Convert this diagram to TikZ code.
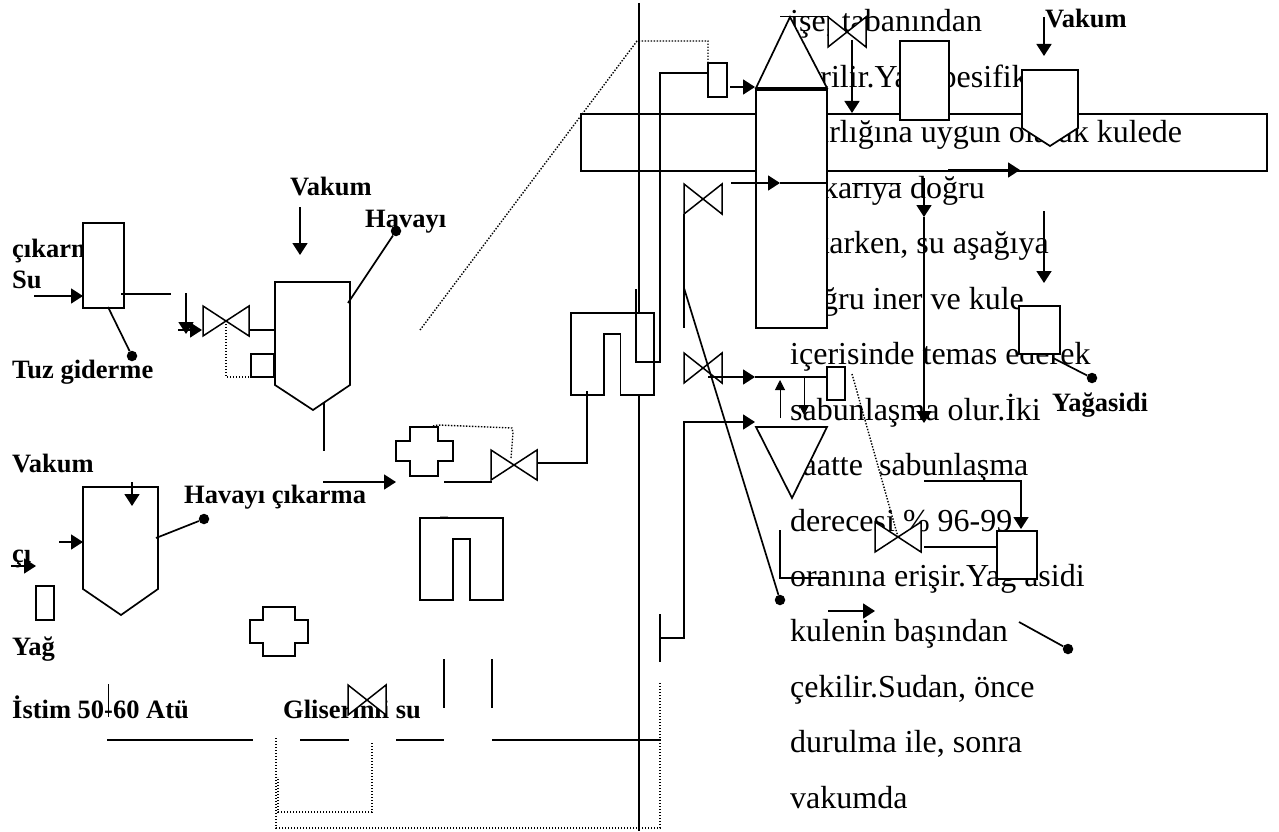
\documentclass[tikz,border=0pt]{standalone}
\usepackage{fontspec}
\setmainfont{Liberation Serif}
\usetikzlibrary{arrows.meta}

\begin{document}
\begin{tikzpicture}[
      x=1pt, y=-1pt,
      pipe/.style={line width=1.7pt},
      thin pipe/.style={line width=1pt},
      main/.style={line width=2.3pt},
      arr/.style={pipe, -{Triangle[length=12pt, width=15pt]}},
      thin arr/.style={thin pipe, -{Triangle[length=10pt, width=10pt]}},
      dots/.style={line width=1.4pt, dash pattern=on 1.4pt off 1.6pt},
      box/.style={draw, fill=white, pipe, inner sep=0, outer sep=0},
      shape fill/.style={pipe, draw, fill=white, line join=miter},
      dot/.style={circle, fill, inner sep=0, minimum size=10.5pt},
      valve/.style={inner sep=0, outer sep=0, minimum width=49pt, minimum height=33pt,
        path picture={\draw[line width=1.5pt, fill=white]
          ([shift={(1.5pt,-1.5pt)}]path picture bounding box.north west) --
          ([shift={(-1.5pt,1.5pt)}]path picture bounding box.south east) --
          ([shift={(-1.5pt,-1.5pt)}]path picture bounding box.north east) --
          ([shift={(1.5pt,1.5pt)}]path picture bounding box.south west) -- cycle;}},
      small valve/.style={valve, minimum width=41pt},
      body/.style={anchor=base west, inner sep=0, font=\fontsize{32}{36}\selectfont},
      lab/.style={anchor=base west, inner sep=0, font=\bfseries\fontsize{26.5}{30}\selectfont}
    ]
      \useasboundingbox (0,0) rectangle (1279,832);

      % running text behind the plant
      \foreach \txt [count=\i from 0] in {{işe, tabanından}, {verilir.Yağ\ \ pesifik}, {ağırlığına uygun olarak kulede},
          {yukarıya doğru}, {çıkarken, su aşağıya}, {doğru iner ve kule}, {içerisinde temas ederek},
          {sabunlaşma olur.İki}, {saatte\ \ sabunlaşma}, {derecesi \% 96-99}, {oranına erişir.Yağ asidi},
          {kulenin başından}, {çekilir.Sudan, önce}, {durulma ile, sonra}, {vakumda}}
        \node[body] (line\i) at (790,32+55.45*\i) {\txt};

      \node[lab] (cikarma) at (12,257) {çıkarma};
      \node[lab] (su) at (12,288) {Su};
      \node[lab] (tuz) at (12,378) {Tuz giderme};
      \node[lab] (vakuma) at (290,195) {Vakum};
      \node[lab] (havayia) at (365,227) {Havayı};
      \node[lab] (vakumb) at (12,472) {Vakum};
      \node[lab] (havayib) at (184,503) {Havayı çıkarma};
      \node[lab] (ci) at (12,562) {çı};
      \node[lab] (yag) at (12,655) {Yağ};
      \node[lab] (istim) at (12,718) {İstim 50-60 Atü};
      \node[lab] (gliserin) at (283,718) {Gliserinli su};
      \node[lab] (vakumc) at (1045,28) {Vakum};
      \node[lab] (yagasidi) at (1052,411) {Yağasidi};

      % column, frame and the long pipes
      \coordinate (maintop) at (639,3); \coordinate (mainend) at (639,831);
      \draw[main] (maintop) -- (mainend);
      \coordinate (bara) at (107,740); \coordinate (barb) at (253,740);
      \coordinate (barc) at (300,740); \coordinate (bard) at (349,740);
      \coordinate (bare) at (396,740); \coordinate (barf) at (444,740);
      \coordinate (barg) at (492,740); \coordinate (barh) at (661,740);
      \draw[pipe] (bara) -- (barb);
      \draw[pipe] (barc) -- (bard);
      \draw[pipe] (bare) -- (barf);
      \draw[pipe] (barg) -- (barh);

      \coordinate (fa) at (581,114); \coordinate (fb) at (1267,171);
      \draw[pipe] (fa) rectangle (fb);

      % left washer
      \node[box, minimum width=41pt, minimum height=85pt] (washer) at (103.5,265.5) {};
      \coordinate (wa) at (34,296); \coordinate (wb) at (83,296);
      \draw[arr] (wa) -- (wb);
      \coordinate (wc) at (121,294); \coordinate (wd) at (171,294);
      \draw[pipe] (wc) -- (wd);
      \coordinate (we) at (108,307);
      \node[dot] (tuzdot) at (132,356) {};
      \draw[pipe] (we) -- (tuzdot);

      % first vacuum tank
      \draw[shape fill] (275,282) -- (350,282) -- (350,385) -- (313,410) -- (275,385) -- cycle;
      \node[valve] (vta) at (226,321) {};
      \node[box, minimum width=23pt, minimum height=23pt] (sensa) at (262.5,365.5) {};
      \coordinate (ta) at (186,293); \coordinate (tb) at (186,334);
      \draw[arr] (ta) -- (tb);
      \coordinate (tc) at (178,330); \coordinate (td) at (202,330);
      \draw[arr] (tc) -- (td);
      \coordinate (te) at (250,330); \coordinate (tf) at (275,330);
      \draw[pipe] (te) -- (tf);
      \coordinate (tg) at (249,377);
      \draw[dots] (vta.center) |- (tg);
      \coordinate (th) at (324,403); \coordinate (ti) at (324,451);
      \draw[pipe] (th) -- (ti);
      \coordinate (tj) at (348,303);
      \node[dot] (havadot) at (396,231) {};
      \draw[pipe] (tj) -- (havadot);
      \coordinate (tk) at (300,207); \coordinate (tl) at (300,255);
      \draw[arr] (tk) -- (tl);

      % second vacuum tank
      \draw[shape fill] (83,487) -- (158,487) -- (158,589) -- (121,615) -- (83,589) -- cycle;
      \coordinate (ka) at (132,482); \coordinate (kb) at (132,506);
      \draw[arr] (ka) -- (kb);
      \coordinate (kc) at (59,542); \coordinate (kd) at (83,542);
      \draw[arr] (kc) -- (kd);
      \coordinate (ke) at (156,538);
      \node[dot] (havbdot) at (204,519) {};
      \draw[pipe] (ke) -- (havbdot);
      \coordinate (kf) at (11,566); \coordinate (kg) at (36,566);
      \draw[arr] (kf) -- (kg);
      \node[box, minimum width=18pt, minimum height=34pt] (yagbox) at (45,603) {};
      \coordinate (kh) at (108,684); \coordinate (ki) at (108,717);
      \draw[thin pipe] (kh) -- (ki);

      % coolers and lower valves
      \draw[shape fill] (410,427) -- (438,427) -- (438,441) -- (453,441) -- (453,461) -- (438,461) -- (438,476)
        -- (410,476) -- (410,461) -- (396,461) -- (396,441) -- (410,441) -- cycle;
      \draw[shape fill] (263,607) -- (295,607) -- (295,620) -- (308,620) -- (308,643) -- (295,643) -- (295,656)
        -- (263,656) -- (263,643) -- (250,643) -- (250,620) -- (263,620) -- cycle;
      \node[valve] (vtb) at (514,465) {};
      \node[small valve] (vtc) at (367,700) {};
      \coordinate (ca) at (323,482); \coordinate (cb) at (396,482);
      \draw[arr] (ca) -- (cb);
      \coordinate (cc) at (444,482); \coordinate (cd) at (492,482);
      \draw[pipe] (cc) -- (cd);
      \coordinate (ce) at (433,426); \coordinate (cf) at (512,428); \coordinate (cg) at (511,458);
      \draw[dots] (ce) -- (438,425) -- (cf) -- (513,433) -- (cg);

      % U exchangers
      \fill (440,516.5) -- (448,516.5) -- (444,522) -- cycle;
      \draw[shape fill] (420,518) -- (503,518) -- (503,600) -- (470,600) -- (470,539) -- (453,539) -- (453,600) -- (420,600) -- cycle;
      \draw[shape fill] (571,313) -- (654,313) -- (654,395) -- (620.5,395) -- (620.5,334) -- (604,334) -- (604,395) -- (571,395) -- cycle;
      \coordinate (ua) at (538,463); \coordinate (ub) at (587,391);
      \draw[pipe] (ua) -| (ub);
      \coordinate (uc) at (444,659); \coordinate (ud) at (444,708);
      \coordinate (ue) at (492,659); \coordinate (uf) at (492,708);
      \draw[pipe] (uc) -- (ud);
      \draw[pipe] (ue) -- (uf);

      % dotted return lines
      \coordinate (ra) at (276,738); \coordinate (rb) at (660,828); \coordinate (rc) at (660,683);
      \draw[dots] (ra) |- (rb) -- (rc);
      \coordinate (rd) at (372,743); \coordinate (re) at (278,812); \coordinate (rf) at (278,777);
      \draw[dots] (rd) |- (re) -- (rf);

      % feed to the tower head
      \node[box, minimum width=19pt, minimum height=34pt] (head) at (717.5,80) {};
      \coordinate (pa) at (636,289); \coordinate (pb) at (636,362); \coordinate (pc) at (660,362);
      \draw[pipe] (pa) -- (pb) -- (pc) |- (head.west |- 0,73);
      \coordinate (pd) at (637,41); \coordinate (pe) at (420,330);
      \draw[dots] (head.north west) -- (708,41) -- (pd) -- (pe);
      \coordinate (pf) at (730,87); \coordinate (pg) at (755,87);
      \draw[arr] (pf) -- (pg);

      % tower
      \draw[shape fill] (756,88) -- (790,17) -- (827,88) -- cycle;
      \node[box, minimum width=71pt, minimum height=238pt] (tower) at (791.5,209) {};
      \coordinate (oa) at (780,17); \coordinate (ob) at (829,17);
      \draw[thin pipe] (oa) -- (ob);
      \node[small valve] (vtd) at (847,32) {};
      \coordinate (oc) at (852,40); \coordinate (od) at (852,113);
      \draw[arr] (oc) -- (od);
      \node[box, minimum width=49pt, minimum height=79pt] (drum) at (924.5,80.5) {};
      \draw[shape fill] (1022,70) -- (1078,70) -- (1078,128) -- (1050,146) -- (1022,128) -- cycle;
      \coordinate (oe) at (1044,17); \coordinate (of) at (1044,56);
      \draw[arr] (oe) -- (of);
      \coordinate (og) at (948,170); \coordinate (oh) at (1020,170);
      \draw[arr] (og) -- (oh);
      \coordinate (oi) at (731,183); \coordinate (oj) at (780,183); \coordinate (ok) at (827,183);
      \draw[arr] (oi) -- (oj);
      \draw[pipe] (oj) -- (ok);
      \coordinate (ol) at (852,183); \coordinate (om) at (901,183);
      \draw[thin pipe] (ol) -- (om);
      \coordinate (on) at (924,178); \coordinate (oo) at (924,217); \coordinate (op) at (924,423);
      \draw[arr] (on) -- (oo);
      \draw[arr] (oo) -- (op);
      \coordinate (oq) at (1044,211); \coordinate (or) at (1044,283);
      \draw[arr] (oq) -- (or);

      % valves beside the tower
      \node[small valve] (vte) at (703,199) {};
      \node[small valve] (vtf) at (703,368) {};
      \coordinate (sa) at (684,214); \coordinate (sb) at (684,328);
      \draw[pipe] (sa) -- (sb);
      \coordinate (sc) at (684,288);
      \node[dot] (lowdot) at (780,600) {};
      \draw[pipe] (sc) -- (lowdot);
      \node[box, minimum width=18pt, minimum height=33pt] (meter) at (836,383.5) {};
      \coordinate (sd) at (708,377); \coordinate (se) at (755,377);
      \draw[arr] (sd) -- (se);
      \draw[pipe] (se) -- (meter.west |- se);
      \coordinate (sf) at (780,418); \coordinate (sg) at (780,380);
      \draw[thin arr] (sf) -- (sg);
      \coordinate (sh) at (804,378); \coordinate (si) at (804,415);
      \draw[thin arr] (sh) -- (si);

      % lower feed and separator
      \coordinate (la) at (660,614); \coordinate (lb) at (660,662);
      \draw[pipe] (la) -- (lb);
      \coordinate (lc) at (660,638); \coordinate (ld) at (755,422);
      \draw[arr] (lc) -| (684,422) -- (ld);
      \draw[shape fill] (756,427) -- (827,427) -- (792,498) -- cycle;
      \coordinate (le) at (780,530); \coordinate (lf) at (829,578);
      \draw[pipe] (le) |- (lf);
      \node[valve] (vtg) at (898,537) {};
      \node[box, minimum width=40pt, minimum height=48pt] (receiver) at (1017,555) {};
      \coordinate (lg) at (924,547);
      \draw[pipe] (lg) -- (receiver.west |- lg);
      \coordinate (lh) at (924,481); \coordinate (li) at (1021,529);
      \draw[arr] (lh) -| (li);
      \coordinate (lj) at (852,374);
      \draw[dots] (lj) -- (vtg.center);
      \coordinate (lk) at (828,611); \coordinate (ll) at (875,611);
      \draw[arr] (lk) -- (ll);
      \coordinate (lm) at (1019,622);
      \node[dot] (tankdot) at (1068,649) {};
      \draw[pipe] (lm) -- (tankdot);

      % fatty acid drum
      \coordinate (da) at (1053,358);
      \node[dot] (yagdot) at (1092,378) {};
      \draw[pipe] (da) -- (yagdot);
      \node[box, minimum width=41pt, minimum height=48pt] (acid) at (1039.5,330) {};
    \end{tikzpicture}
\end{document}
